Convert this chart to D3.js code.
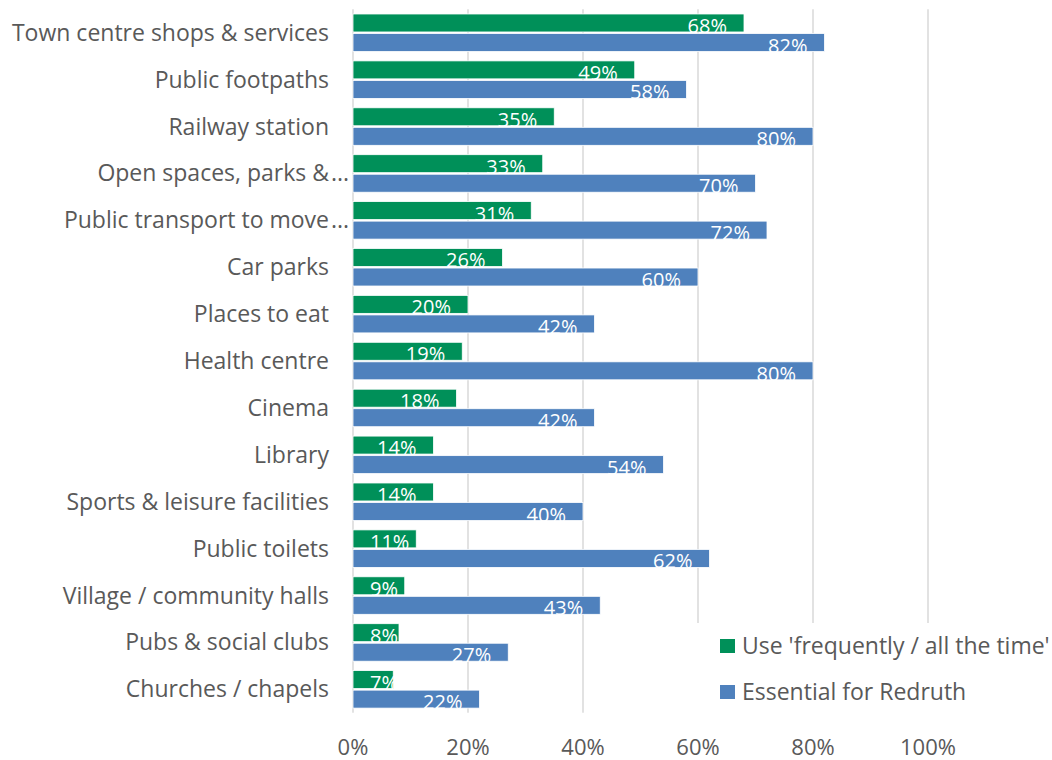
<!DOCTYPE html>
<html>
<head>
<meta charset="utf-8">
<script src="https://cdn.jsdelivr.net/npm/d3@7"></script>
<style>
  html, body { margin: 0; padding: 0; background: #ffffff; }
  svg { display: block; font-family: "Open Sans", "Liberation Sans", sans-serif; }
</style>
</head>
<body>
<svg id="chart" width="1052" height="760"></svg>
<script>
// Facilities: how often residents use them and whether they are essential
const categories = [
  "Town centre shops & services",
  "Public footpaths",
  "Railway station",
  "Open spaces, parks &",
  "Public transport to move",
  "Car parks",
  "Places to eat",
  "Health centre",
  "Cinema",
  "Library",
  "Sports & leisure facilities",
  "Public toilets",
  "Village / community halls",
  "Pubs & social clubs",
  "Churches / chapels"
];
// labels shortened with an ellipsis on the axis
const truncated = [
  "Open spaces, parks &",
  "Public transport to move"
];
const useFrequently = [68, 49, 35, 33, 31, 26, 20, 19, 18, 14, 14, 11, 9, 8, 7];
const essential     = [82, 58, 80, 70, 72, 60, 42, 80, 42, 54, 40, 62, 43, 27, 22];
const seriesNames = ["Use 'frequently / all the time'", "Essential for Redruth"];
const tickValues = [0, 20, 40, 60, 80, 100];

const colors = ["#009059", "#4f81bd"];
const textColor = "#595959";
const gridColor = "#d9d9d9";

const svg = d3.select("#chart");

const x = d3.scaleLinear().domain([0, 100]).range([353, 928]);
const y = d3.scaleBand().domain(categories).range([9.3, 712.8])
  .paddingInner(0.2).paddingOuter(0.1);
const sub = d3.scaleBand().domain(seriesNames).range([0, y.bandwidth()])
  .paddingInner(0.08);

// vertical gridlines
svg.append("g").selectAll("line")
  .data(tickValues)
  .join("line")
  .attr("x1", d => x(d)).attr("x2", d => x(d))
  .attr("y1", y.range()[0]).attr("y2", y.range()[1])
  .attr("stroke", gridColor)
  .attr("stroke-width", 1.5);

// x axis tick labels
svg.append("g").selectAll("text")
  .data(tickValues)
  .join("text")
  .attr("x", d => x(d))
  .attr("y", 755)
  .attr("text-anchor", "middle")
  .attr("font-size", 22)
  .attr("fill", textColor)
  .text(d => d + "%");

// category labels
const catG = svg.append("g");
catG.selectAll("text.cat")
  .data(categories)
  .join("text")
  .attr("class", "cat")
  .attr("x", x(0) - 24)
  .attr("y", d => y(d) + y.bandwidth() / 2 + 8)
  .attr("text-anchor", "end")
  .attr("font-size", 23)
  .attr("fill", textColor)
  .text(d => d);
catG.selectAll("text.ell")
  .data(categories.filter(d => truncated.includes(d)))
  .join("text")
  .attr("class", "ell")
  .attr("x", x(0) - 22)
  .attr("y", d => y(d) + y.bandwidth() / 2 + 8)
  .attr("text-anchor", "start")
  .attr("font-size", 23)
  .attr("fill", textColor)
  .text("...");

// bars
const rows = categories.map((c, i) => ({
  cat: c,
  vals: [
    { key: seriesNames[0], value: useFrequently[i], color: colors[0] },
    { key: seriesNames[1], value: essential[i], color: colors[1] }
  ]
}));

const rowG = svg.append("g").selectAll("g")
  .data(rows)
  .join("g")
  .attr("transform", d => `translate(0,${y(d.cat)})`);

rowG.selectAll("rect")
  .data(d => d.vals)
  .join("rect")
  .attr("x", x(0))
  .attr("y", d => sub(d.key))
  .attr("width", d => x(d.value) - x(0))
  .attr("height", sub.bandwidth())
  .attr("fill", d => d.color)
  .attr("stroke", "#ffffff")
  .attr("stroke-width", 0.8);

// value labels at the inside end of each bar
const pad = 17;
rowG.selectAll("text")
  .data(d => d.vals)
  .join("text")
  .attr("y", d => sub(d.key) + sub.bandwidth() + 1)
  .attr("text-anchor", "end")
  .attr("font-size", 20)
  .attr("fill", "#ffffff")
  .text(d => d.value + "%")
  .each(function (d) {
    const w = this.getComputedTextLength();
    const xe = Math.max(x(d.value) - pad, x(0) + pad + w);
    d3.select(this).attr("x", xe);
  });

// legend
const lg = svg.append("g");
lg.append("rect")
  .attr("x", 697).attr("y", 623)
  .attr("width", 355).attr("height", 92)
  .attr("fill", "#ffffff");
const li = lg.selectAll("g.item")
  .data(seriesNames)
  .join("g")
  .attr("class", "item")
  .attr("transform", (d, i) => `translate(720,${639 + i * 46})`);
li.append("rect")
  .attr("width", 15).attr("height", 14)
  .attr("fill", (d, i) => colors[i]);
li.append("text")
  .attr("x", 22).attr("y", 14.5)
  .attr("font-size", 23)
  .attr("fill", textColor)
  .text(d => d);
</script>
</body>
</html>
